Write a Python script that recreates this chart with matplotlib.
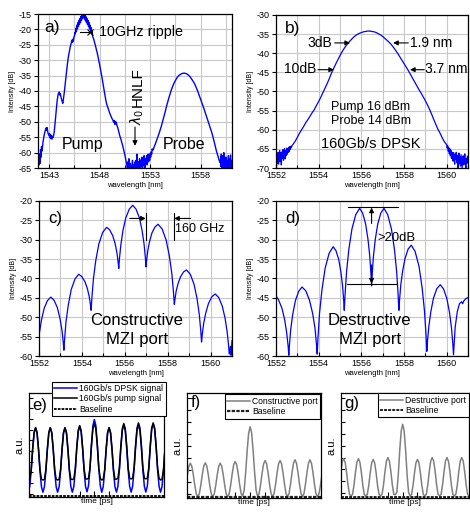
import matplotlib
matplotlib.use('Agg')
import matplotlib.pyplot as plt
import numpy as np

plt.rcParams['font.family'] = ['Liberation Sans', 'DejaVu Sans']
plt.rcParams['axes.unicode_minus'] = False

# ---------------- a) pump and probe spectra at the HNLF input
a_pump_wl = [1541.90, 1541.95, 1542.00, 1542.05, 1542.10, 1542.15, 1542.20, 1542.25, 1542.30, 1542.40,
             1542.50, 1542.60, 1542.70, 1542.75, 1542.80, 1542.85, 1542.90, 1543.00, 1543.05, 1543.10,
             1543.15, 1543.20, 1543.25, 1543.30, 1543.35, 1543.40, 1543.50, 1543.60, 1543.70, 1543.80,
             1543.90, 1544.00, 1544.05, 1544.10, 1544.20, 1544.30, 1544.35, 1544.40, 1544.50, 1544.60,
             1544.70, 1544.80, 1544.90, 1545.00, 1545.10, 1545.20, 1545.25, 1545.30, 1545.35, 1545.40,
             1545.45, 1545.50, 1545.55, 1545.60, 1545.65, 1545.70, 1545.75, 1545.80, 1545.85, 1545.90,
             1545.95, 1546.00, 1546.05, 1546.10, 1546.15, 1546.20, 1546.25, 1546.30, 1546.35, 1546.40,
             1546.45, 1546.50, 1546.55, 1546.60, 1546.65, 1546.70, 1546.75, 1546.80, 1546.85, 1546.90,
             1546.95, 1547.00, 1547.05, 1547.10, 1547.15, 1547.20, 1547.25, 1547.30, 1547.40, 1547.50,
             1547.60, 1547.70, 1547.80, 1547.90, 1548.00, 1548.10, 1548.20, 1548.30, 1548.40, 1548.50,
             1548.60, 1548.70, 1548.80, 1548.90, 1549.00, 1549.10, 1549.20, 1549.30, 1549.40, 1549.45,
             1549.50, 1549.55, 1549.60, 1549.65, 1549.70, 1549.80, 1549.90, 1550.00, 1550.10, 1550.20,
             1550.30, 1550.40, 1550.50, 1550.60, 1550.70, 1550.75]
a_pump_db = [-66.0, -61.5, -64.0, -60.5, -63.5, -59.0, -61.5, -58.0, -59.5, -56.5,
             -54.5, -53.0, -52.0, -52.8, -51.9, -53.0, -53.8, -54.6, -53.8, -55.2,
             -54.2, -55.5, -54.5, -55.6, -54.8, -55.0, -53.5, -50.0, -46.5, -43.0,
             -41.0, -40.3, -41.3, -40.8, -42.3, -43.5, -44.0, -43.0, -40.5, -37.5,
             -34.5, -31.5, -29.0, -27.3, -25.5, -24.3, -23.5, -24.2, -23.2, -23.8,
             -22.5, -22.2, -21.0, -21.4, -19.6, -20.7, -18.6, -19.8, -17.8, -19.1,
             -17.1, -18.4, -16.5, -17.8, -15.8, -17.1, -15.2, -16.5, -14.9, -16.1,
             -14.8, -16.6, -15.3, -17.2, -15.9, -17.8, -16.5, -18.4, -17.1, -19.1,
             -17.8, -19.8, -18.6, -20.6, -19.4, -21.5, -20.6, -22.2, -23.0, -24.2,
             -25.5, -26.8, -28.2, -29.8, -31.5, -33.2, -35.0, -37.0, -39.2, -41.2,
             -42.8, -44.3, -45.3, -46.4, -47.2, -48.0, -48.8, -49.4, -50.2, -49.6,
             -50.8, -49.9, -50.7, -50.1, -51.0, -52.0, -53.3, -54.6, -55.6, -56.8,
             -58.0, -59.4, -60.8, -62.5, -64.2, -66.0]
# noise floor between pump and probe (1550.80 .. 1553.25 nm)
a_floor_db = [-63.0, -66.5, -62.0, -65.5, -66.5, -63.5, -67.0, -64.5, -66.0, -62.5,
              -66.5, -64.0, -67.0, -65.0, -63.0, -66.5, -62.5, -65.5, -60.5, -64.5,
              -66.5, -63.0, -65.5, -62.0, -64.0, -66.0, -62.5, -64.5, -61.5, -65.0,
              -62.5, -64.0, -61.0, -63.5, -65.5, -62.0, -63.5, -61.0, -64.0, -62.5,
              -60.5, -63.0, -61.0, -62.5, -60.3, -61.5, -59.8, -60.5, -58.8, -59.2]
# noise on the long-wavelength side (1559.95 .. 1561.11 nm)
a_tail_db = [-63.0, -61.5, -64.5, -60.5, -63.8, -66.5, -61.0, -64.0, -67.0, -62.0,
             -65.5, -60.0, -63.5, -66.8, -62.5, -65.0, -67.5, -63.0, -61.5, -66.0,
             -64.0, -67.0, -62.5, -65.5, -63.5, -67.0, -61.0, -64.5, -66.5, -62.0,
             -65.0, -67.5, -63.0, -60.8, -64.5, -66.0, -62.5, -65.5, -63.0]

# ---------------- b) probe spectrum (0.1 nm steps from 1552.8 to 1559.9 nm)
probe_wl = np.round(np.arange(1552.8, 1559.95, 0.1), 2)
probe_db = [-63.8, -63.0,
            -62.0, -60.9, -60.0, -59.1, -58.1, -57.3, -56.4, -55.5, -54.7, -53.6,
            -52.6, -51.5, -50.3, -49.1, -47.9, -46.6, -45.2, -44.0, -42.8, -41.7,
            -40.6, -39.6, -38.7, -37.9, -37.2, -36.6, -36.0, -35.5, -35.1, -34.8,
            -34.6, -34.4, -34.3, -34.2, -34.2, -34.3, -34.4, -34.6, -34.9, -35.2,
            -35.6, -36.1, -36.6, -37.1, -37.7, -38.4, -39.2, -40.0, -40.9, -41.8,
            -42.7, -43.6, -44.5, -45.5, -46.5, -47.5, -48.5, -49.5, -50.4, -51.4,
            -52.4, -53.5, -54.7, -56.0, -57.4, -58.7, -60.0, -61.0, -62.2, -63.2]
# noise 1552.0 .. 1552.75 nm and 1560.0 .. 1561.0 nm
b_left_db = [-67.5, -69.5, -66.2, -68.8, -65.9, -69.0, -67.1, -65.4, -68.3, -66.0,
             -69.2, -65.8, -67.4, -65.2, -68.0, -66.3, -64.9, -67.6, -65.5, -66.8,
             -64.8, -66.4, -65.0, -65.9, -64.6, -65.7, -64.4, -65.1, -64.3, -64.6, -64.2]
b_right_db = [-63.9, -64.8, -64.2, -65.6, -64.7, -66.3, -65.0, -66.8, -65.4, -67.5,
              -65.9, -66.6, -68.2, -66.0, -67.3, -69.0, -66.4, -67.8, -65.9, -68.6,
              -66.7, -70.0, -67.2, -66.1, -68.9, -67.0, -69.5, -66.5, -68.1, -70.0,
              -67.4, -66.8, -69.2, -67.9, -66.3, -68.7, -70.0, -67.5, -68.8, -66.9, -68.3]

# ---------------- c) constructive MZI port
c_wl = [1552.00, 1552.116, 1552.24, 1552.395, 1552.55, 1552.70, 1552.855, 1552.977, 1553.07, 1553.13, 1553.16,
        1553.195, 1553.26, 1553.37, 1553.505, 1553.68, 1553.85, 1553.995, 1554.14, 1554.256, 1554.343, 1554.40, 1554.43,
        1554.466, 1554.538, 1554.646, 1554.79, 1554.97, 1555.15, 1555.29, 1555.435, 1555.55, 1555.635, 1555.69, 1555.72,
        1555.75, 1555.82, 1555.915, 1556.045, 1556.21, 1556.37, 1556.525, 1556.68, 1556.804, 1556.897, 1556.96, 1556.99,
        1557.018, 1557.074, 1557.158, 1557.27, 1557.41, 1557.55, 1557.74, 1557.93, 1558.082, 1558.196, 1558.272, 1558.31,
        1558.34, 1558.395, 1558.48, 1558.595, 1558.74, 1558.88, 1559.055, 1559.23, 1559.37, 1559.475, 1559.545, 1559.58,
        1559.612, 1559.676, 1559.772, 1559.90, 1560.06, 1560.22, 1560.38, 1560.545, 1560.675, 1560.77, 1560.84, 1560.87,
        1560.93, 1560.96, 1561.0]
c_db = [-54.7, -50.7, -47.7, -45.7, -44.8, -45.6, -47.5, -50.3, -53.3, -56.4, -58.5,
        -55.6, -51.1, -46.7, -42.8, -40.1, -38.9, -39.5, -40.8, -42.6, -44.7, -46.8, -48.2,
        -45.0, -40.1, -35.4, -31.1, -28.1, -26.8, -27.4, -28.9, -31.0, -33.4, -35.8, -37.4,
        -34.9, -31.2, -27.6, -24.4, -22.1, -21.1, -22.1, -24.3, -27.5, -31.0, -34.6, -37.0,
        -35.4, -32.8, -30.4, -28.2, -26.7, -26.0, -27.2, -30.1, -34.3, -38.8, -43.6, -46.7,
        -45.4, -43.3, -41.4, -39.6, -38.3, -37.8, -38.9, -41.5, -45.2, -49.3, -53.6, -56.4,
        -54.5, -51.7, -49.0, -46.5, -44.7, -44.0, -44.9, -47.1, -50.2, -53.6, -57.2, -59.5,
        -57.5, -59.8, -56.0]

# ---------------- d) destructive MZI port
d_wl = [1552.0, 1552.11, 1552.275, 1552.405, 1552.50, 1552.57, 1552.6,
        1552.63, 1552.69, 1552.786, 1552.91, 1553.065, 1553.22, 1553.40, 1553.575, 1553.72, 1553.83, 1553.895, 1553.93,
        1553.968, 1554.04, 1554.155, 1554.305, 1554.49, 1554.68, 1554.81, 1554.94, 1555.044, 1555.122, 1555.174, 1555.2,
        1555.236, 1555.308, 1555.416, 1555.56, 1555.74, 1555.92, 1556.06, 1556.20, 1556.312, 1556.396, 1556.452, 1556.48,
        1556.509, 1556.567, 1556.654, 1556.77, 1556.915, 1557.06, 1557.235, 1557.41, 1557.55, 1557.655, 1557.725, 1557.76,
        1557.789, 1557.847, 1557.934, 1558.05, 1558.195, 1558.34, 1558.52, 1558.705, 1558.85, 1558.96, 1559.034, 1559.07,
        1559.10, 1559.166, 1559.26, 1559.385, 1559.54, 1559.70, 1559.855, 1560.01, 1560.134, 1560.227, 1560.29, 1560.32,
        1560.35, 1560.40, 1560.5, 1560.6, 1560.7, 1560.75, 1560.8, 1560.9, 1561.0]
d_db = [-44.5, -45.4, -47.6, -50.6, -54.0, -57.5, -59.8,
        -57.2, -53.1, -49.2, -45.7, -43.3, -42.2, -43.2, -45.7, -49.1, -52.9, -56.9, -59.5,
        -55.3, -49.0, -42.9, -37.3, -33.5, -31.8, -32.8, -35.1, -38.4, -42.0, -45.7, -48.2,
        -44.3, -38.2, -32.4, -27.2, -23.5, -21.9, -23.1, -25.9, -29.9, -34.3, -38.9, -41.9,
        -38.9, -34.3, -29.9, -25.9, -23.1, -21.9, -23.5, -27.2, -32.4, -38.2, -44.3, -48.2,
        -45.7, -41.8, -38.1, -34.8, -32.4, -31.4, -33.0, -36.9, -42.4, -48.4, -54.7, -58.8,
        -56.2, -52.3, -48.5, -45.0, -42.6, -41.6, -42.7, -45.2, -48.8, -52.8, -57.0, -59.7,
        -57.0, -52.5, -48.5, -46.5, -46.0, -46.5, -45.8, -45.2, -44.9]

# ---------------- e) f) g) time traces, 160 Gb/s -> 6.25 ps bit slot
slot_ps = 6.25
phase = [-0.5, -0.4, -0.3, -0.2, -0.1, 0.0, 0.1, 0.2, 0.3, 0.4]
e_dpsk_shape = [0.05, 0.13, 0.36, 0.67, 0.92, 1.0, 0.92, 0.67, 0.36, 0.13]
e_pump_shape = [0.23, 0.24, 0.38, 0.69, 0.93, 1.0, 0.93, 0.69, 0.38, 0.24]
f_shape = [0.02, 0.10, 0.35, 0.66, 0.91, 1.0, 0.91, 0.66, 0.35, 0.10]
g_shape = [0.03, 0.06, 0.30, 0.64, 0.91, 1.0, 0.91, 0.64, 0.30, 0.06]
# pulse peak levels, one pulse before the window and one after
e_dpsk_peaks = [1.0, 1.0, 1.0, 1.0, 1.02, 1.12, 1.0, 1.04, 1.04, 1.06, 1.0]
e_pump_peaks = [1.0, 1.0, 1.0, 1.0, 1.03, 1.06, 1.0, 1.06, 1.07, 1.07, 1.0]
f_peaks = [1.0, 1.0, 1.01, 1.0, 1.05, 2.07, 1.08, 1.08, 1.1, 1.1, 1.0]
g_peaks = [1.0, 1.0, 1.0, 0.98, 1.03, 1.9, 0.98, 1.03, 1.03, 1.03, 1.0]
e_first, e_span = 2.8, 57.4
f_first, f_span = 1.39, 56.0
g_first, g_span = 1.12, 54.2

BLUE = '#0000ff'
GRID = '#c8c8c8'


def pulse_train(first, peaks, shape):
    t, y = [], []
    for k, pk in enumerate(peaks):
        c = first + (k - 1) * slot_ps
        for ph, s in zip(phase, shape):
            t.append(c + ph * slot_ps)
            y.append(pk * s)
    return t, y


fig = plt.figure(figsize=(4.7, 5.14), dpi=100)


def px_axes(l, t, r, b):
    return fig.add_axes([l / 470, 1 - b / 514, (r - l) / 470, (b - t) / 514])


def style_spec(ax, xlim, ylim, xt, xm, yt):
    ax.set_xlim(*xlim)
    ax.set_ylim(*ylim)
    ax.set_xticks(xt)
    ax.set_xticks(xm, minor=True)
    ax.set_yticks(yt)
    ax.grid(which='both', axis='x', color=GRID, lw=0.8)
    ax.grid(which='major', axis='y', color=GRID, lw=0.8)
    ax.set_axisbelow(True)
    ax.tick_params(axis='x', which='both', direction='in', length=3, width=0.8, labelsize=6.5, pad=2)
    ax.tick_params(axis='x', which='minor', length=2)
    ax.tick_params(axis='y', direction='out', length=3, width=0.8, labelsize=6.5, pad=1.5)
    for s in ax.spines.values():
        s.set_linewidth(0.9)
    ax.set_ylabel('Intensity [dB]', fontsize=5, labelpad=2)
    ax.set_xlabel('wavelength [nm]', fontsize=5.5, labelpad=1.5)


def arrow(ax, x0, y0, x1, y1):
    ax.annotate('', xy=(x1, y1), xytext=(x0, y0),
                arrowprops=dict(arrowstyle='-|>', color='k', lw=0.8, mutation_scale=7,
                                shrinkA=0, shrinkB=0))


# ---- a)
ax = px_axes(38, 14, 232, 168)
a_wl = (list(a_pump_wl) + list(np.linspace(1550.8, 1553.25, len(a_floor_db)))
        + list(probe_wl[5:]) + list(np.linspace(1559.95, 1561.11, len(a_tail_db))))
a_db = list(a_pump_db) + a_floor_db + probe_db[5:] + a_tail_db
ax.plot(a_wl, a_db, color=BLUE, lw=1.0)
style_spec(ax, (1541.9, 1561.1), (-65, -15), [1543, 1548, 1553, 1558],
           [1545.5, 1550.5, 1555.5, 1560.5], np.arange(-65, -14, 5))
ax.text(1542.5, -19.5, 'a)', fontsize=12.5, va='center')
ax.plot([1546.07, 1547.26], [-20.7, -20.7], color='k', lw=0.8)
ax.plot([1547.06], [-20.7], marker='x', color='k', ms=4, mew=0.8)
ax.text(1547.9, -20.9, '10GHz ripple', fontsize=10.3, va='center')
ax.text(1546.3, -57.5, 'Pump', fontsize=11.5, ha='center', va='center')
ax.text(1556.4, -57.5, 'Probe', fontsize=11.5, ha='center', va='center')
ax.text(1551.75, -38.7, 'HNLF', fontsize=11, rotation=90, ha='center', va='center')
ax.text(1551.75, -48.5, r'$\lambda_0$', fontsize=10, rotation=90, ha='center', va='center')
arrow(ax, 1551.5, -51.7, 1551.5, -57.8)

# ---- b)
ax = px_axes(276, 15, 468, 168)
b_wl = (list(np.linspace(1552.0, 1552.75, len(b_left_db))) + list(probe_wl)
        + list(np.linspace(1560.0, 1561.0, len(b_right_db))))
b_db = b_left_db + probe_db + b_right_db
ax.plot(b_wl, b_db, color=BLUE, lw=0.9)
style_spec(ax, (1552, 1561), (-70, -30), np.arange(1552, 1561, 2),
           np.arange(1553, 1562, 2), np.arange(-70, -29, 5))
ax.text(1552.42, -33.4, 'b)', fontsize=12.5, va='center')
ax.text(1554.63, -37.2, '3dB', fontsize=10, ha='right', va='center')
arrow(ax, 1554.75, -37.3, 1555.47, -37.3)
ax.text(1558.28, -37.2, '1.9 nm', fontsize=10, ha='left', va='center')
arrow(ax, 1558.2, -37.3, 1557.49, -37.3)
ax.text(1553.88, -44.1, '10dB', fontsize=10, ha='right', va='center')
arrow(ax, 1553.97, -44.3, 1554.72, -44.3)
ax.text(1559.0, -44.1, '3.7 nm', fontsize=10, ha='left', va='center')
arrow(ax, 1558.95, -44.3, 1558.28, -44.3)
ax.text(1556.45, -54.0, 'Pump 16 dBm', fontsize=9, ha='center', va='center')
ax.text(1556.45, -57.7, 'Probe 14 dBm', fontsize=9, ha='center', va='center')
ax.text(1556.45, -63.6, '160Gb/s DPSK', fontsize=10.5, ha='center', va='center')

# ---- c)
ax = px_axes(39, 201, 232, 356)
ax.plot(c_wl, c_db, color=BLUE, lw=0.9)
style_spec(ax, (1552, 1561), (-60, -20), np.arange(1552, 1561, 2),
           np.arange(1553, 1562, 2), np.arange(-60, -19, 5))
ax.text(1552.42, -24.4, 'c)', fontsize=12, va='center')
arrow(ax, 1556.23, -24.5, 1556.98, -24.5)
ax.plot([1556.98, 1556.98], [-23.1, -30.1], color='k', lw=0.8)
ax.plot([1558.28, 1558.28], [-23.1, -30.1], color='k', lw=0.8)
arrow(ax, 1559.07, -24.5, 1558.3, -24.5)
ax.text(1558.35, -27.3, '160 GHz', fontsize=9, ha='left', va='center')
ax.text(1556.55, -50.8, 'Constructive', fontsize=12, ha='center', va='center')
ax.text(1556.55, -55.7, 'MZI port', fontsize=12, ha='center', va='center')

# ---- d)
ax = px_axes(276, 201, 468, 356)
ax.plot(d_wl, d_db, color=BLUE, lw=0.9)
style_spec(ax, (1552, 1561), (-60, -20), np.arange(1552, 1561, 2),
           np.arange(1553, 1562, 2), np.arange(-60, -19, 5))
ax.text(1552.42, -24.4, 'd)', fontsize=12, va='center')
ax.plot([1555.38, 1557.72], [-21.55, -21.55], color='k', lw=0.8)
ax.plot([1555.33, 1557.67], [-41.4, -41.4], color='k', lw=0.8)
arrow(ax, 1556.48, -25.8, 1556.48, -21.7)
arrow(ax, 1556.48, -36.5, 1556.48, -41.3)
ax.text(1556.73, -29.5, '>20dB', fontsize=9.4, ha='left', va='center')
ax.text(1556.4, -50.8, 'Destructive', fontsize=12, ha='center', va='center')
ax.text(1556.4, -55.7, 'MZI port', fontsize=12, ha='center', va='center')


# ---- e) f) g)
def style_time(ax, span, first, ylim, ystep, ystart):
    ax.set_xlim(0, span)
    ax.set_ylim(*ylim)
    ax.set_xticks([first + 3 * slot_ps, first + 4 * slot_ps, first + 5 * slot_ps])
    ax.set_yticks(np.arange(ystart, ylim[1], ystep))
    ax.tick_params(direction='in', length=3, width=0.8, labelbottom=False, labelleft=False)
    ax.tick_params(axis='x', length=4)
    for s in ax.spines.values():
        s.set_linewidth(0.9)
    ax.set_xlabel('time [ps]', fontsize=6, labelpad=1)
    ax.set_ylabel('a.u.', fontsize=8, labelpad=3)


leg_kw = dict(fontsize=6.2, frameon=True, fancybox=False, edgecolor='k', framealpha=1,
              borderpad=0.3, labelspacing=0.15, handlelength=2.6, handletextpad=0.3,
              borderaxespad=0)

ax = px_axes(29, 393, 164, 497)
t, y = pulse_train(e_first, e_dpsk_peaks, e_dpsk_shape)
ax.plot(t, y, color=BLUE, lw=1.1, label='160Gb/s DPSK signal')
t, y = pulse_train(e_first, e_pump_peaks, e_pump_shape)
ax.plot(t, y, color='k', lw=1.1, label='160Gb/s pump signal')
ax.plot([0, e_span], [0, 0], color='k', lw=1.3, ls=(0, (1.5, 0.6)), label='Baseline')
style_time(ax, e_span, e_first, (-0.02, 1.51), 0.157, 0.03)
lg = ax.legend(loc='upper right', bbox_to_anchor=(1.015, 1.11), **leg_kw)
lg.get_frame().set_linewidth(0.8)
ax.text(1.2, 1.33, 'e)', fontsize=12, va='center')

ax = px_axes(187, 393, 321, 498)
t, y = pulse_train(f_first, f_peaks, f_shape)
ax.plot(t, y, color='#808080', lw=1.1, label='Constructive port')
ax.plot([0, f_span], [0, 0], color='#202020', lw=1.6, ls=(0, (1.5, 0.6)), label='Baseline')
style_time(ax, f_span, f_first, (-0.02, 3.06), 0.35, 0.1)
lg = ax.legend(loc='upper right', bbox_to_anchor=(0.995, 0.99), **leg_kw)
lg.get_frame().set_linewidth(0.8)
ax.text(1.5, 2.78, 'f)', fontsize=12, va='center')

ax = px_axes(341, 393, 469, 498)
t, y = pulse_train(g_first, g_peaks, g_shape)
ax.plot(t, y, color='#808080', lw=1.1, label='Destructive port')
ax.plot([0, g_span], [0, 0], color='#202020', lw=1.4, ls=(0, (1.5, 0.6)), label='Baseline')
style_time(ax, g_span, g_first, (-0.03, 2.72), 0.31, 0.1)
lg = ax.legend(loc='upper right', bbox_to_anchor=(1.0, 1.0), **leg_kw)
lg.get_frame().set_linewidth(0.8)
ax.text(1.5, 2.45, 'g)', fontsize=12, va='center')

fig.savefig('out.png', dpi=100)
